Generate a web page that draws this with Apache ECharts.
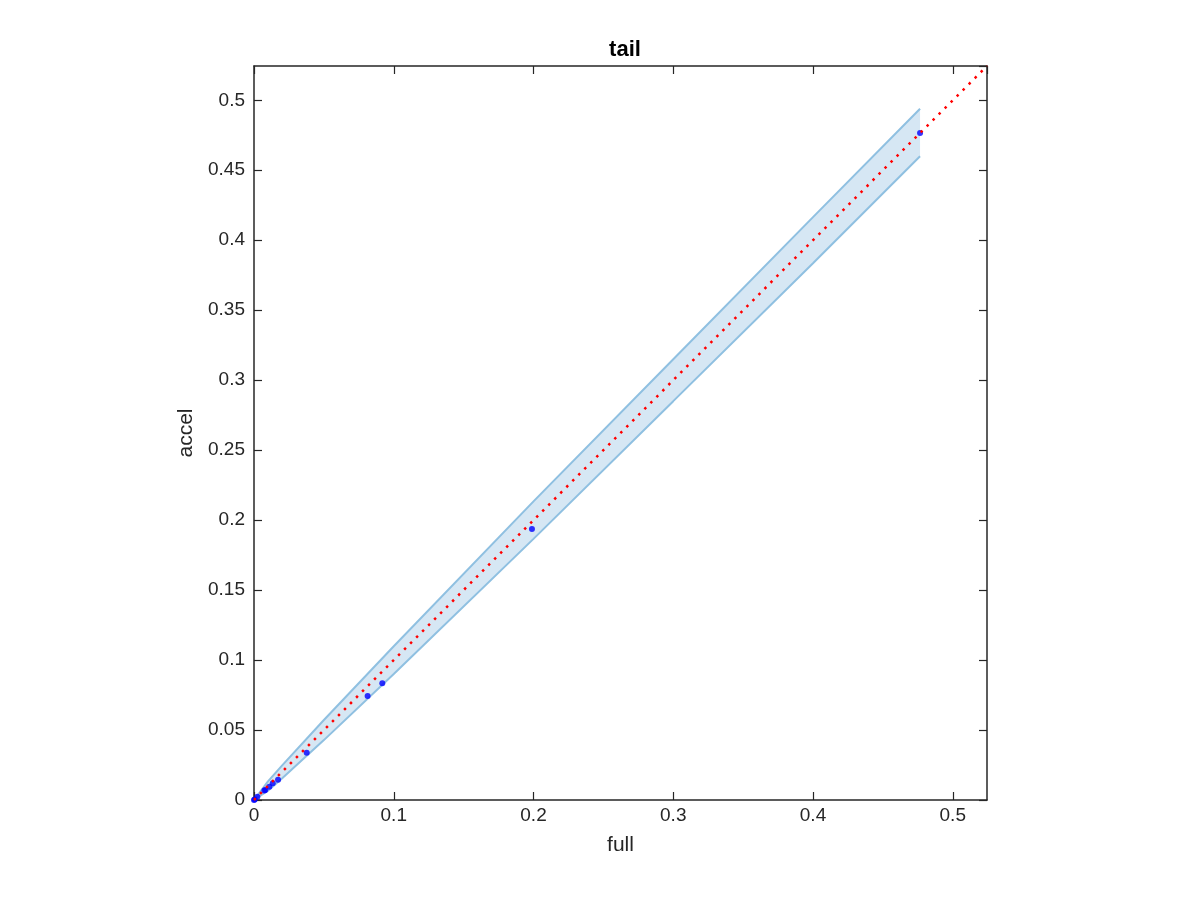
<!DOCTYPE html>
<html>
<head>
<meta charset="utf-8">
<script src="https://cdn.jsdelivr.net/npm/echarts@6/dist/echarts.min.js"></script>
<style>html,body{margin:0;padding:0;background:#fff}#c{width:1200px;height:900px}</style>
</head>
<body>
<div id="c"></div>
<script>
// ---- data ----
const full  = [0, 0.0005, 0.0024, 0.0074, 0.0081, 0.0110, 0.0134, 0.0172, 0.0377, 0.0813, 0.0918, 0.1989, 0.4766];
const accel = [0, 0.0004, 0.0024, 0.0067, 0.0072, 0.0095, 0.0119, 0.0145, 0.0338, 0.0744, 0.0835, 0.1936, 0.4766];
const bandX     = [0, 0.01,   0.02,   0.05,   0.1,    0.2,    0.3,    0.4,    0.4766];
const bandUpper = [0, 0.0133, 0.0246, 0.0572, 0.1099, 0.2134, 0.3150, 0.4165, 0.4940];
const bandLower = [0, 0.0067, 0.0154, 0.0428, 0.0901, 0.1866, 0.2850, 0.3835, 0.4600];
const refX = [0, 0.5245];
const refY = [0, 0.5245];
const xTicks = [0, 0.1, 0.2, 0.3, 0.4, 0.5];
const yTicks = [0, 0.05, 0.1, 0.15, 0.2, 0.25, 0.3, 0.35, 0.4, 0.45, 0.5];
const axisMax = 0.5245;

const FONT = 'Liberation Sans, Arial, Helvetica, sans-serif';
const AX = '#262626';
const chart = echarts.init(document.getElementById('c'), null, {renderer: 'canvas'});

const fmt = v => String(+v.toFixed(2));

function baseAxis(show, pos) {
  return {
    type: 'value', min: 0, max: axisMax, position: pos,
    axisLine: {show: true, onZero: false, lineStyle: {color: AX, width: 1.5}},
    axisTick: {show: true, inside: true, length: 8, lineStyle: {color: AX, width: 1.2}},
    splitLine: {show: false},
    axisLabel: {show: show, color: AX, fontFamily: FONT, fontSize: 19, showMaxLabel: false},
  };
}

const bandData = bandX.map((x, i) => [x, bandLower[i], bandUpper[i]]);

const option = {
  animation: false,
  backgroundColor: '#ffffff',
  title: {
    text: 'tail', left: 620, top: 34, textAlign: 'center',
    textStyle: {fontFamily: FONT, fontSize: 22, fontWeight: 'bold', color: '#000'}
  },
  grid: {left: 254, top: 66, width: 733, height: 734, containLabel: false},
  xAxis: [
    Object.assign(baseAxis(true, 'bottom'), {
      interval: 0.1, name: 'full', nameLocation: 'middle', nameGap: 35,
      nameTextStyle: {fontFamily: FONT, fontSize: 21, color: AX},
      axisLabel: {show: true, color: AX, fontFamily: FONT, fontSize: 19, margin: 6, showMaxLabel: false,
        formatter: v => xTicks.some(t => Math.abs(t - v) < 1e-9) ? fmt(v) : ''}
    }),
    Object.assign(baseAxis(false, 'top'), {interval: 0.1})
  ],
  yAxis: [
    Object.assign(baseAxis(true, 'left'), {
      interval: 0.05, name: 'accel', nameLocation: 'middle', nameGap: 56, nameRotate: 90,
      nameTextStyle: {fontFamily: FONT, fontSize: 21, color: AX},
      axisLabel: {show: true, color: AX, fontFamily: FONT, fontSize: 19, margin: 9, showMaxLabel: false,
        formatter: v => yTicks.some(t => Math.abs(t - v) < 1e-9) ? fmt(v) : ''}
    }),
    Object.assign(baseAxis(false, 'right'), {interval: 0.05})
  ],
  series: [
    {
      type: 'custom', xAxisIndex: 0, yAxisIndex: 0, silent: true, z: 1,
      data: bandData,
      encode: {x: 0, y: [1, 2]},
      renderItem: function (params, api) {
        if (params.dataIndex !== 0) return null;
        const pts = [];
        for (let i = 0; i < bandX.length; i++) pts.push(api.coord([bandX[i], bandUpper[i]]));
        for (let i = bandX.length - 1; i >= 0; i--) pts.push(api.coord([bandX[i], bandLower[i]]));
        return {type: 'polygon', shape: {points: pts}, style: {fill: '#d6e7f4', stroke: null}};
      }
    },
    {
      type: 'line', z: 2, showSymbol: false, silent: true,
      data: bandX.map((x, i) => [x, bandUpper[i]]),
      lineStyle: {color: '#8fc0e1', width: 2}
    },
    {
      type: 'line', z: 2, showSymbol: false, silent: true,
      data: bandX.map((x, i) => [x, bandLower[i]]),
      lineStyle: {color: '#8fc0e1', width: 2}
    },
    {
      type: 'scatter', z: 3, silent: true,
      data: full.map((x, i) => [x, accel[i]]),
      symbol: 'circle', symbolSize: 6,
      itemStyle: {color: '#0000ff'}
    },
    {
      type: 'line', z: 4, showSymbol: false, silent: true,
      data: refX.map((x, i) => [x, refY[i]]),
      lineStyle: {color: '#ff0000', width: 2.5, type: [2.5, 6], cap: 'butt'}
    }
  ]
};
chart.setOption(option);
</script>
</body>
</html>
